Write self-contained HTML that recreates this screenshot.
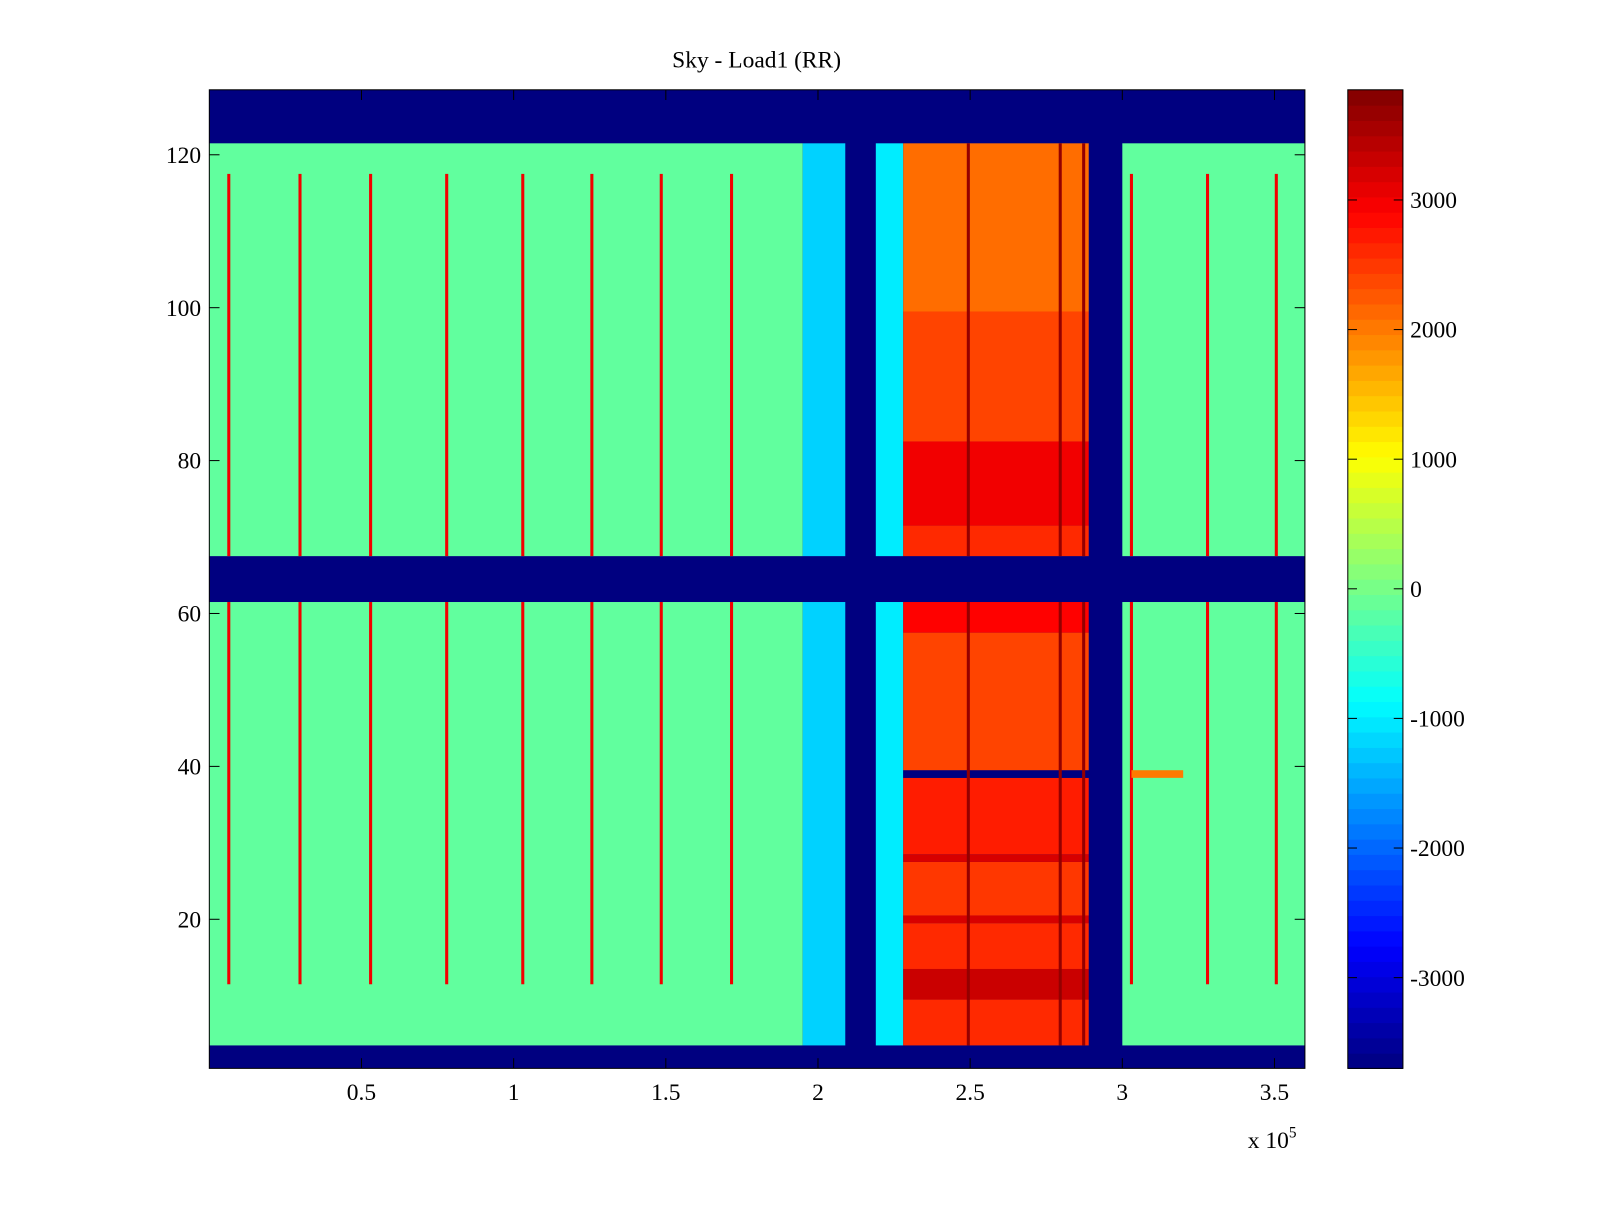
<!DOCTYPE html>
<html><head><meta charset="utf-8"><style>
body{margin:0;background:#fff;width:1600px;height:1200px;overflow:hidden}
svg text{font-family:"Liberation Serif",serif;font-size:23px;fill:#000}
</style></head><body>
<svg id="chart" width="1600" height="1200" viewBox="0 0 1567 1176" preserveAspectRatio="none" xmlns="http://www.w3.org/2000/svg">
<text x="741" y="66" text-anchor="middle">Sky - Load1 (RR)</text>
<g id="cells"></g>
<g id="axes"></g>
<g id="cbar"></g>
</svg>
<script>
// ---- data ----
const colEdges = [0, 1.95, 2.09, 2.19, 2.28, 2.89, 3.0, 3.6];
const colValues = [-150, -1200, null, -1000, 2300, null, -150];
const blankRows = [[1, 3], [62, 67], [122, 128]];
const redBands = [[4,9,2600],[10,13,3300],[14,19,2600],[20,20,3200],[21,27,2500],[28,28,3200],[29,38,2700],[39,39,null],[40,57,2400],[58,61,2900],[68,71,2600],[72,82,3000],[83,99,2400],[100,121,2100]];
const lineX = [0.064, 0.298, 0.53, 0.78, 1.03, 1.257, 1.485, 1.716, 3.03, 3.28, 3.506];
const lineValue = 3000;
const lineRows = [12, 117];
const darkLineX = [2.494, 2.796, 2.873];
const darkLineValue = 3700;
const xTicks = [0.5, 1, 1.5, 2, 2.5, 3, 3.5];
const xTickLabels = ["0.5","1","1.5","2","2.5","3","3.5"];
const yTicks = [20, 40, 60, 80, 100, 120];
const cTicks = [-3000, -2000, -1000, 0, 1000, 2000, 3000];
const vMin = -3700, vMax = 3850;

// ---- axes ----
const L=205,R=1278,T=88,B=1047;
const xMin=0,xMax=3.6,yMin=0.5,yMax=128.5;
const sx=v=>L+(v-xMin)/(xMax-xMin)*(R-L);
const sy=v=>B-(v-yMin)/(yMax-yMin)*(B-T);
function jet(v){
  if(v===null) v=vMin;
  let t=Math.max(0,Math.min(1,(v-vMin)/(vMax-vMin)));
  const f=x=>Math.round(255*Math.max(0,Math.min(1,x)));
  return `rgb(${f(1.5-Math.abs(4*t-3))},${f(1.5-Math.abs(4*t-2))},${f(1.5-Math.abs(4*t-1))})`;
}
const NS="http://www.w3.org/2000/svg";
function rect(g,x,y,w,h,fill,name){
  const r=document.createElementNS(NS,"rect");
  r.setAttribute("x",x);r.setAttribute("y",y);r.setAttribute("width",w);r.setAttribute("height",h);r.setAttribute("fill",fill);
  
  
  g.appendChild(r);return r;
}
const cells=document.getElementById("cells");
rect(cells,L,T,R-L,B-T,jet(null),"background");
for(let i=0;i<colValues.length;i++){
  const x0=sx(colEdges[i]),x1=sx(colEdges[i+1]);
  if(colValues[i]===2300){
    for(const b of redBands){
      rect(cells,x0,sy(b[1]+0.5),x1-x0,sy(b[0]-0.5)-sy(b[1]+0.5),jet(b[2]),"red-band-cell");
    }
  } else {
    for(let s=0;s<=blankRows.length-2;s++){
      const r0=blankRows[s][1]+1,r1=blankRows[s+1][0]-1;
      rect(cells,x0,sy(r1+0.5),x1-x0,sy(r0-0.5)-sy(r1+0.5),jet(colValues[i]),"column-cell");
    }
  }
}
for(const x of lineX){
  for(let s=0;s<=blankRows.length-2;s++){
    const r0=Math.max(lineRows[0],blankRows[s][1]+1),r1=Math.min(lineRows[1],blankRows[s+1][0]-1);
    rect(cells,sx(x)-1.5,sy(r1+0.5),3,sy(r0-0.5)-sy(r1+0.5),jet(lineValue),"spike-line");
  }
}
for(const x of darkLineX){
  for(let s=0;s<=blankRows.length-2;s++){
    const r0=blankRows[s][1]+1,r1=blankRows[s+1][0]-1;
    rect(cells,sx(x)-1.5,sy(r1+0.5),3,sy(r0-0.5)-sy(r1+0.5),jet(darkLineValue),"dark-line");
  }
}
rect(cells,sx(3.03),sy(39.5),sx(3.2)-sx(3.03),sy(38.5)-sy(39.5),jet(2000),"row39-orange");
// axes
const ax=document.getElementById("axes");
function line(g,x1,y1,x2,y2,name){
  const l=document.createElementNS(NS,"line");
  l.setAttribute("x1",x1);l.setAttribute("y1",y1);l.setAttribute("x2",x2);l.setAttribute("y2",y2);
  l.setAttribute("stroke","#000");l.setAttribute("stroke-width","1");
  
  
  g.appendChild(l);
}
function text(g,x,y,s,anchor,name){
  const t=document.createElementNS(NS,"text");
  t.setAttribute("x",x);t.setAttribute("y",y);t.setAttribute("text-anchor",anchor);t.textContent=s;
  
  
  g.appendChild(t);return t;
}
const fr=rect(ax,L,T,R-L,B-T,"none","plot-frame");fr.setAttribute("stroke","#000");
xTicks.forEach((v,i)=>{
  line(ax,sx(v),B,sx(v),B-10,"x-tick");line(ax,sx(v),T,sx(v),T+10,"x-tick");
  text(ax,sx(v),B+31,xTickLabels[i],"middle","x-tick-label");
});
yTicks.forEach(v=>{
  line(ax,L,sy(v),L+10,sy(v),"y-tick");line(ax,R,sy(v),R-10,sy(v),"y-tick");
  text(ax,L-8,sy(v)+8,String(v),"end","y-tick-label");
});
const ex=text(ax,1222,1125,"x 10","start","x-exponent");
const sup=document.createElementNS(NS,"tspan");sup.setAttribute("dy","-10");sup.setAttribute("font-size","15");sup.textContent="5";ex.appendChild(sup);
// colorbar
const cb=document.getElementById("cbar");
const CL=1320,CR=1374;
const cy=v=>B-(v-vMin)/(vMax-vMin)*(B-T);
for(let k=0;k<64;k++){
  const v0=vMin+k*(vMax-vMin)/64,v1=vMin+(k+1)*(vMax-vMin)/64;
  rect(cb,CL,cy(v1),CR-CL,cy(v0)-cy(v1)+0.6,jet((v0+v1)/2),"colorbar-step");
}
const cf=rect(cb,CL,T,CR-CL,B-T,"none","colorbar-frame");cf.setAttribute("stroke","#000");
cTicks.forEach(v=>{
  line(cb,CL,cy(v),CL+9,cy(v),"colorbar-tick");line(cb,CR,cy(v),CR-9,cy(v),"colorbar-tick");
  text(cb,CR+7,cy(v)+8,String(v),"start","colorbar-tick-label");
});
</script>
</body></html>
